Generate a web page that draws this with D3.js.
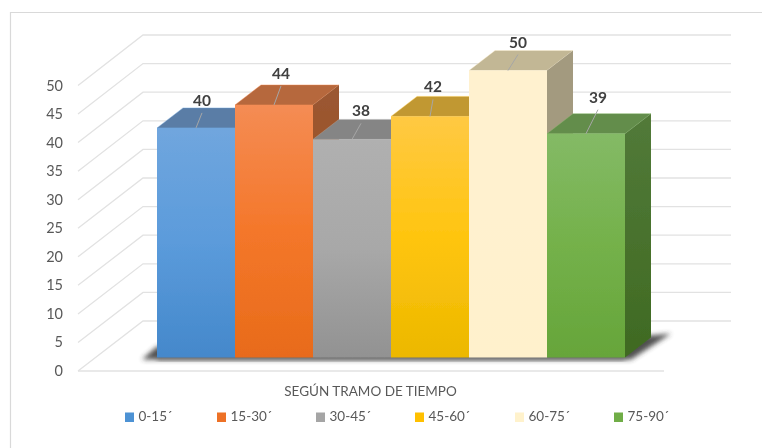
<!DOCTYPE html>
<html><head><meta charset="utf-8">
<script src="https://cdn.jsdelivr.net/npm/d3@7/dist/d3.min.js"></script>
<style>html,body{margin:0;background:#fff}svg{display:block;font-family:Lato,"Open Sans",sans-serif}</style>
</head><body><svg id="c" width="762" height="448"></svg>
<script>
const categories = ["0-15´","15-30´","30-45´","45-60´","60-75´","75-90´"];
const values = [40,44,38,42,50,39];
const tickValues = [0,5,10,15,20,25,30,35,40,45,50];
const axisTitle = "SEGÚN TRAMO DE TIEMPO";
const frontTop = ["#70a6de","#f48c54","#b0b0b0","#ffc943","#fff1cf","#84ba66"];
const frontMid = ["#5b9bdb","#f4772a","#a8a8a8","#ffc50f","#fff1cf","#74b14a"];
const frontBottom = ["#4488cb","#e86b1a","#929292","#ecb800","#fff1cc","#66a53a"];
const swatch = ["#4d92d4","#ed7125","#a5a5a5","#ffc000","#fff2cc","#70ad47"];
const topFace = ["#5a7da6","#b6683d","#858585","#c19833","#c2b795","#638d4c"];
const sideTop = ["#4f7198","#9b5832","#767676","#a8842a","#a39a7f","#527a39"];
const sideBottom = ["#3a6a99","#9b4d15","#6e6e6e","#a08000","#a39a7f","#3f6a22"];

const svg = d3.select("#c");
const defs = svg.append("defs");
const x = d3.scaleBand().domain(categories).range([157,625]).padding(0);
const yFront = d3.scaleLinear().domain([0,50]).range([357.5,70.5]);
const yWallF = d3.scaleLinear().domain([0,50]).range([371,85.5]);
const yWallB = d3.scaleLinear().domain([0,50]).range([321,35]);
const wall = {xF:78, xB:143, xEnd:731, xFloorEnd:664};
const depth = {dx:26, dy:20};
// label layout offsets from each bar's front-top centre
const labelOffset = d3.scaleOrdinal().domain(categories).range([[6,-22],[7,-26],[9,-23],[3,-24],[10,-23],[12,-31]]);
const legendX = d3.scaleOrdinal().domain(categories).range([125,217,316,415,515,614]);
const legendGap = 13.5;

const blur = defs.append("filter").attr("id","b").attr("x","-20%").attr("y","-20%").attr("width","140%").attr("height","140%");
blur.append("feGaussianBlur").attr("stdDeviation",0.45);
const sh = defs.append("filter").attr("id","s").attr("x","-20%").attr("y","-50%").attr("width","140%").attr("height","200%");
sh.append("feGaussianBlur").attr("stdDeviation",2.6);
function grad(id,stops){const g=defs.append("linearGradient").attr("id",id).attr("x1",0).attr("y1",0).attr("x2",0).attr("y2",1);
 stops.forEach((s,k)=>g.append("stop").attr("offset",k/(stops.length-1)).attr("stop-color",s));}
categories.forEach((c,i)=>{grad("f"+i,[frontTop[i],frontMid[i],frontBottom[i]]);grad("d"+i,[sideTop[i],sideBottom[i]]);});

const root = svg.append("g");
root.append("path").attr("d","M10.5,448V12.5H762").attr("fill","none").attr("stroke","#d9d9d9").attr("stroke-width",1.2);

const grid = root.append("g").attr("fill","none").attr("stroke","#e2e2e2").attr("stroke-width",1.3);
tickValues.forEach(t=>{
  grid.append("path").attr("d",d3.line()([[wall.xF,yWallF(t)],[wall.xB,yWallB(t)],[wall.xEnd,yWallB(t)]]));
});
grid.append("path").attr("d",d3.line()([[wall.xF,yWallF(0)],[wall.xFloorEnd,yWallF(0)]]));

// ground shadow
const x0 = x.range()[0], x1 = x.range()[1], yb = yFront(0);
root.append("path").attr("filter","url(#s)").attr("fill","#333").attr("opacity",0.85)
  .attr("d",d3.line()([[x0-15,yb+2],[x0,yb-11],[x1+depth.dx,yb-depth.dy-2],[x1+depth.dx+20,yb-depth.dy-4],[x1+6,yb+2]])+"Z");
root.append("path").attr("filter","url(#s)").attr("fill","#666").attr("opacity",0.9)
  .attr("d",d3.line()([[x0,yb],[x1,yb],[x1,yb+3],[x0,yb+3]])+"Z");

const bars = root.append("g").attr("filter","url(#b)");
const w = x.bandwidth();
categories.forEach((c,i)=>{
  const L = x(c), R = L+w, T = yFront(values[i]), B = yFront(0);
  const g = bars.append("g");
  g.append("path").attr("fill",topFace[i]).attr("stroke",frontTop[i]).attr("stroke-width",0.6).attr("stroke-opacity",0.7)
    .attr("d",d3.line()([[L,T],[L+depth.dx,T-depth.dy],[R+depth.dx,T-depth.dy],[R,T]])+"Z");
  g.append("path").attr("fill",`url(#d${i})`)
    .attr("d",d3.line()([[R,T],[R+depth.dx,T-depth.dy],[R+depth.dx,B-depth.dy],[R,B]])+"Z");
  g.append("rect").attr("x",L).attr("y",T).attr("width",w).attr("height",B-T).attr("fill",`url(#f${i})`);
});

const txt = root.append("g").attr("filter","url(#b)");
tickValues.forEach(t=>{
  txt.append("text").attr("x",63).attr("y",yWallF(t)+5).attr("text-anchor","end")
    .attr("font-size",14.5).attr("fill","#595959").text(t);
});
categories.forEach((c,i)=>{
  const cx = x(c)+w/2, T = yFront(values[i]);
  const [dx,dy] = labelOffset(c);
  txt.append("path").attr("stroke","#a6a6a6").attr("stroke-width",1).attr("fill","none")
    .attr("d",d3.line()([[cx,T],[cx+dx,T+dy+7]]));
  txt.append("text").attr("x",cx+dx).attr("y",T+dy).attr("text-anchor","middle")
    .attr("font-size",15.5).attr("font-weight",700).attr("fill","#404040").text(values[i]);
});
txt.append("text").attr("x",370.5).attr("y",396).attr("text-anchor","middle").attr("font-size",13.5).attr("fill","#595959").text(axisTitle);

categories.forEach((c,i)=>{
  const lx = legendX(c);
  txt.append("rect").attr("x",lx).attr("y",412.5).attr("width",9).attr("height",9.5).attr("fill",swatch[i]);
  txt.append("text").attr("x",lx+legendGap).attr("y",421).attr("font-size",13.5).attr("fill","#595959").text(c);
});
</script></body></html>
